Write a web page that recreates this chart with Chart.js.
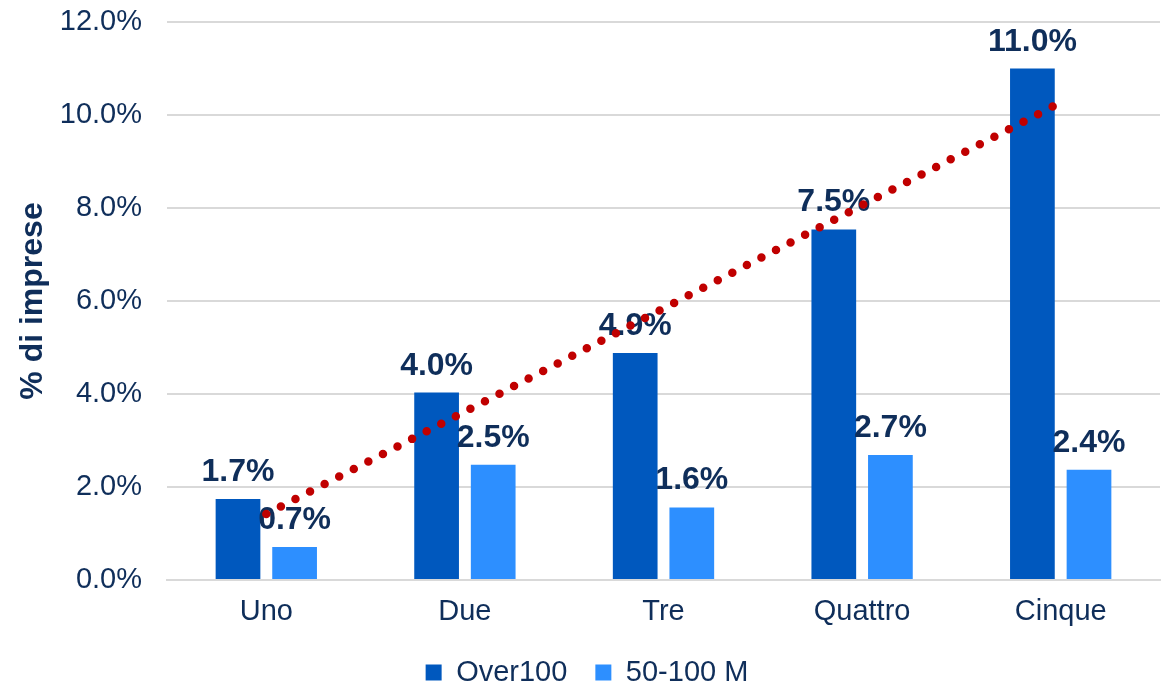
<!DOCTYPE html>
<html lang="it">
<head>
  <meta charset="UTF-8" />
  <title>% di imprese</title>
  <script src="https://cdn.jsdelivr.net/npm/chart.js"></script>
  <style>
    html, body { margin: 0; padding: 0; background: #fff; }
    .wrap { width: 1166px; height: 682px; position: relative; }
  </style>
</head>
<body>
<div class="wrap">
  <canvas id="grafico"></canvas>
</div>
<script>
  // dati
  const categorie = ['Uno', 'Due', 'Tre', 'Quattro', 'Cinque'];
  const over100 = [1.74, 4.03, 4.88, 7.54, 11.0];
  const m50_100 = [0.71, 2.48, 1.56, 2.69, 2.37];
  // linea di tendenza
  const tendenza = [1.42, 3.62, 5.84, 8.06, 10.27];
  const yTicks = [0, 2, 4, 6, 8, 10, 12];

  const navy = '#0f2e5a';
  const font = '"Liberation Sans", Arial, sans-serif';

  // etichette sopra le barre, disegnate prima della linea tratteggiata
  const etichette = {
    id: 'etichette',
    beforeDatasetDraw(chart, args) {
      if (args.meta.type !== 'line') return;
      const ctx = chart.ctx;
      ctx.save();
      ctx.font = 'bold 32px ' + font;
      ctx.fillStyle = navy;
      ctx.textAlign = 'center';
      ctx.textBaseline = 'alphabetic';
      chart.data.datasets.forEach((ds, i) => {
        const meta = chart.getDatasetMeta(i);
        if (meta.type !== 'bar') return;
        meta.data.forEach((bar, j) => {
          ctx.fillText(ds.data[j].toFixed(1) + '%', bar.x, bar.y - 18);
        });
      });
      ctx.restore();
    }
  };

  new Chart(document.getElementById('grafico'), {
    type: 'bar',
    data: {
      labels: categorie,
      datasets: [
        {
          label: 'Over100',
          data: over100,
          backgroundColor: '#0058be',
          categoryPercentage: 0.57,
          barPercentage: 0.79,
          order: 1
        },
        {
          label: '50-100 M',
          data: m50_100,
          backgroundColor: '#2d8fff',
          categoryPercentage: 0.57,
          barPercentage: 0.79,
          order: 1
        },
        {
          type: 'line',
          label: 'Tendenza',
          data: tendenza,
          borderColor: '#c00000',
          borderWidth: 8.5,
          borderDash: [0, 16.4],
          borderCapStyle: 'round',
          pointRadius: 0,
          tension: 0,
          fill: false,
          order: 0
        }
      ]
    },
    options: {
      responsive: true,
      maintainAspectRatio: false,
      animation: false,
      layout: { padding: { top: 6, right: 6, left: 14, bottom: -15 } },
      plugins: {
        legend: {
          position: 'bottom',
          labels: {
            filter: item => item.text !== 'Tendenza',
            color: navy,
            font: { family: font, size: 29 },
            boxWidth: 16,
            boxHeight: 16,
            padding: 28
          }
        },
        tooltip: { enabled: false }
      },
      scales: {
        x: {
          afterFit: axis => { axis.height = 50; },
          grid: { display: false, drawTicks: false },
          border: { color: '#d9d9d9', width: 2 },
          ticks: { color: navy, font: { family: font, size: 29 }, padding: 15 }
        },
        y: {
          min: 0,
          max: 12,
          afterBuildTicks: axis => { axis.ticks = yTicks.map(v => ({ value: v })); },
          afterFit: axis => {
            axis.width = 153;
            axis.paddingTop = 22;
            axis.paddingBottom = 0;
          },
          grid: { color: '#d9d9d9', lineWidth: 2, drawTicks: false },
          border: { display: false },
          ticks: {
            color: navy,
            font: { family: font, size: 29 },
            padding: 25,
            callback: v => v.toFixed(1) + '%'
          },
          title: {
            display: true,
            text: '% di imprese',
            color: navy,
            font: { family: font, size: 32, weight: 'bold' },
            padding: 0
          }
        }
      }
    },
    plugins: [etichette]
  });
</script>
</body>
</html>
